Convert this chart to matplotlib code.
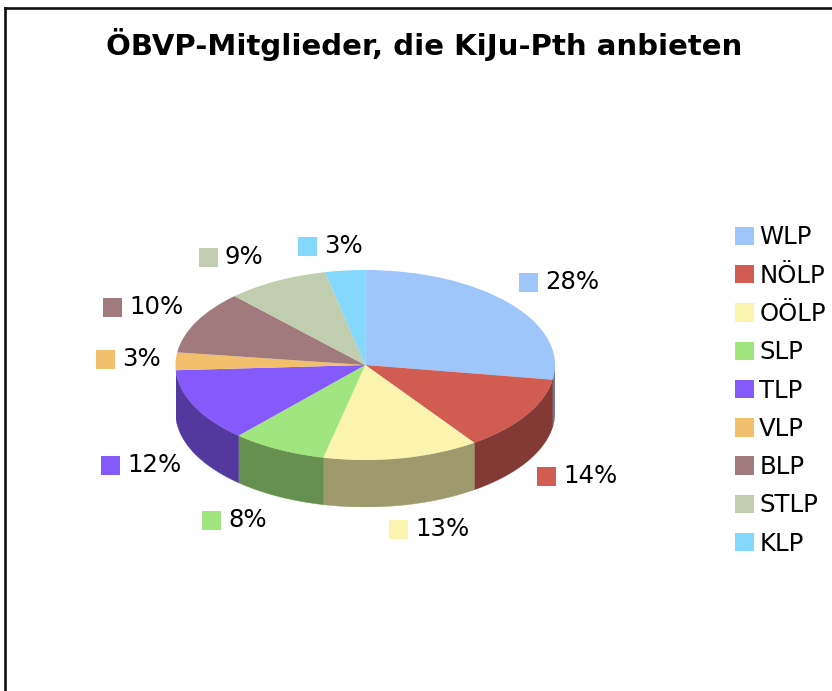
import numpy as np
import matplotlib
matplotlib.use("Agg")
import matplotlib.pyplot as plt
from matplotlib.patches import Rectangle
from matplotlib.lines import Line2D

W, H = 832, 691
title = "ÖBVP-Mitglieder, die KiJu-Pth anbieten"
categories = ["WLP", "NÖLP", "OÖLP", "SLP", "TLP", "VLP", "BLP", "STLP", "KLP"]
shares = [27.5, 12.8, 13.3, 8.1, 12.5, 3.0, 10.8, 8.7, 3.4]
percent_labels = ["28%", "14%", "13%", "8%", "12%", "3%", "10%", "9%", "3%"]
colors = ["#9EC6FA", "#D15C52", "#FBF4AE", "#A1E57F", "#845AFB",
          "#F2C06C", "#A07A7C", "#C1CDAF", "#83D8FC"]
label_x = [519, 537, 389, 202, 101, 96, 103, 199, 298]
label_y = [282, 476, 529, 520, 465, 359, 307, 257, 246]

FONT = 17.6
dpi = 100
fig = plt.figure(figsize=(W / dpi, H / dpi), dpi=dpi, facecolor="white")


def px_axes(x0, y0, x1, y1):
    return fig.add_axes([x0 / W, 1 - y1 / H, (x1 - x0) / W, (y1 - y0) / H])


# pie: top ellipse plus visible side wall
cx0, cx1, top, ry, depth = 175.5, 555, 270, 95.0, 47.0
ax = px_axes(cx0, top, cx1, top + 2 * ry + depth)
wedges, _ = ax.pie(shares, colors=colors, startangle=90, counterclock=False,
                   radius=1, wedgeprops={"linewidth": 0})
ax.set_aspect("auto")
ax.set_xlim(-1, 1)
d = depth / ry
ax.set_ylim(-1 - d, 1)
ax.axis("off")

edges = np.cumsum([0] + shares) / sum(shares) * 2 * np.pi
for a, b, c in zip(edges[:-1], edges[1:], colors):
    lo, hi = max(a, np.pi / 2), min(b, 3 * np.pi / 2)
    if lo >= hi:
        continue
    t = np.linspace(lo, hi, 80)
    xs = np.sin(t)
    ys = np.cos(t)
    dark = tuple(0.63 * v for v in matplotlib.colors.to_rgb(c))
    ax.fill(np.r_[xs, xs[::-1]], np.r_[ys, ys[::-1] - d], color=dark,
            linewidth=0.3, zorder=0)

# overlay in pixel coordinates for frame, title and slice labels
ov = px_axes(0, 0, W, H)
ov.set_xlim(0, W)
ov.set_ylim(H, 0)
ov.axis("off")
ov.patch.set_alpha(0)
ov.add_line(Line2D([5, 5], [8, H], color="#111111", lw=1.9))
ov.add_line(Line2D([5, W], [8, 8], color="#111111", lw=1.9))
ov.text(424, 44, title, ha="center", va="center", fontsize=20.95,
        fontweight="bold", color="black")
sw = 19
for x, y, txt, c in zip(label_x, label_y, percent_labels, colors):
    ov.add_patch(Rectangle((x, y - sw / 2), sw, sw, facecolor=c,
                           edgecolor="none"))
    ov.text(x + sw + 7, y, txt, ha="left", va="center", fontsize=FONT,
            color="black")

leg = ov.legend(wedges, categories, loc="upper left",
                bbox_to_anchor=(728 / W, 1 - 218 / H), frameon=False,
                fontsize=FONT, handlelength=0.78, handleheight=0.78,
                handletextpad=0.2, labelspacing=0.585,
                borderpad=0.3, borderaxespad=0)

fig.savefig("out.png", dpi=dpi)
